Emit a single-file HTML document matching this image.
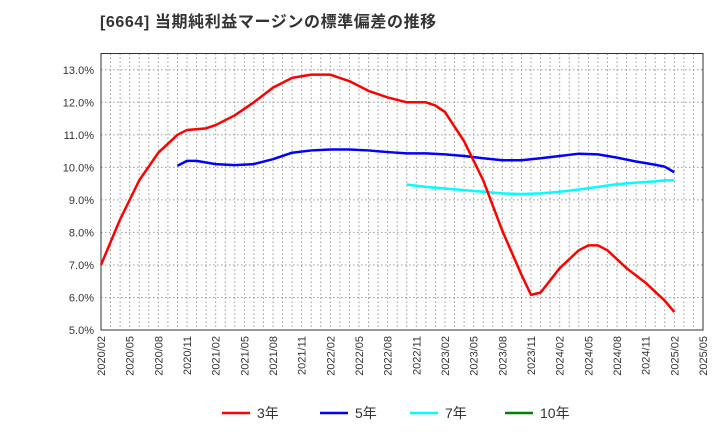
<!DOCTYPE html>
<html><head><meta charset="utf-8"><style>
body{margin:0;background:#fff;font-family:"Liberation Sans","Noto Sans CJK JP",sans-serif}
</style></head><body>
<svg id="c" width="720" height="440" xmlns="http://www.w3.org/2000/svg">
<text x="100" y="27" font-size="16" font-weight="bold" fill="#333" letter-spacing="0.6">[6664] 当期純利益マージンの標準偏差の推移</text>
</svg>
<script>
const xLabels=["2020/02","2020/05","2020/08","2020/11","2021/02","2021/05","2021/08","2021/11","2022/02","2022/05","2022/08","2022/11","2023/02","2023/05","2023/08","2023/11","2024/02","2024/05","2024/08","2024/11","2025/02","2025/05"];
const yTicks=[5,6,7,8,9,10,11,12,13];
const s3Dates=["2020/02","2020/04","2020/06","2020/08","2020/10","2020/11","2021/01","2021/02","2021/04","2021/06","2021/08","2021/10","2021/12","2022/02","2022/04","2022/06","2022/08","2022/10","2022/12","2023/01","2023/02","2023/04","2023/06","2023/08","2023/10","2023/11","2023/12","2024/02","2024/04","2024/05","2024/06","2024/07","2024/09","2024/11","2025/01","2025/02"];
const s3Vals=[7.0,8.4,9.6,10.45,11.0,11.15,11.2,11.3,11.6,12.0,12.45,12.75,12.85,12.85,12.65,12.35,12.15,12.0,12.0,11.9,11.7,10.8,9.6,8.05,6.7,6.08,6.15,6.9,7.45,7.6,7.6,7.45,6.9,6.45,5.9,5.55];
const s5Dates=["2020/10","2020/11","2020/12","2021/02","2021/04","2021/06","2021/08","2021/10","2021/12","2022/02","2022/04","2022/06","2022/08","2022/10","2022/12","2023/02","2023/04","2023/06","2023/08","2023/10","2023/12","2024/02","2024/04","2024/06","2024/08","2024/10","2024/12","2025/01","2025/02"];
const s5Vals=[10.05,10.2,10.2,10.1,10.07,10.1,10.25,10.45,10.52,10.55,10.55,10.52,10.47,10.43,10.43,10.4,10.35,10.28,10.22,10.22,10.28,10.35,10.42,10.4,10.3,10.18,10.08,10.02,9.85];
const s7Dates=["2022/10","2022/12","2023/02","2023/04","2023/06","2023/08","2023/10","2023/12","2024/02","2024/04","2024/06","2024/08","2024/10","2024/12","2025/01","2025/02"];
const s7Vals=[9.47,9.4,9.35,9.3,9.25,9.2,9.18,9.2,9.25,9.32,9.4,9.48,9.53,9.57,9.6,9.6];
const L=101,R=703,T=53.5,B=330,ymin=5,ymax=13.5,mTotal=63;
const NS="http://www.w3.org/2000/svg",svg=document.getElementById('c');
function mi(d){const[y,m]=d.split('/').map(Number);return (y-2020)*12+(m-2);}
function X(d){return L+(R-L)*mi(d)/mTotal;}
function Xi(i){return L+(R-L)*i/mTotal;}
function Y(v){return B-(B-T)*(v-ymin)/(ymax-ymin);}
function el(t,a){const e=document.createElementNS(NS,t);for(const k in a)e.setAttribute(k,a[k]);svg.appendChild(e);return e;}
for(let i=1;i<mTotal;i++){const g=el('line',{x1:Xi(i),x2:Xi(i),y1:T,y2:B,stroke:'#999','stroke-dasharray':'1.5,2.5','stroke-width':1});

}
yTicks.forEach(v=>{const g=el('line',{x1:L,x2:R,y1:Y(v),y2:Y(v),stroke:'#999','stroke-dasharray':'1.5,2.5','stroke-width':1});


const t=el('text',{x:L-7,y:Y(v)+4,'font-size':11,'text-anchor':'end',fill:'#333'});t.textContent=v.toFixed(1)+'%';

});
const fr=el('rect',{x:L,y:T,width:R-L,height:B-T,fill:'none',stroke:'#333','stroke-width':1});


xLabels.forEach(d=>{const x=X(d);const t=el('text',{x:x+4,y:B+6,'font-size':11,'text-anchor':'end',fill:'#333',transform:`rotate(-90 ${x+4} ${B+6})`});t.textContent=d;

});
function line(ds,vs,c,n){const p=el('polyline',{points:ds.map((d,i)=>X(d)+','+Y(vs[i])).join(' '),fill:'none',stroke:c,'stroke-width':2.5,'stroke-linejoin':'round'});

}
line(s7Dates,s7Vals,'#00ffff','series-7yr');
line(s5Dates,s5Vals,'#0000ff','series-5yr');
line(s3Dates,s3Vals,'#ff0000','series-3yr');
[[222,'#ff0000','3年'],[320,'#0000ff','5年'],[410,'#00ffff','7年'],[505,'#008000','10年']].forEach(([x,c,l])=>{
const g=el('line',{x1:x,x2:x+28,y1:413,y2:413,stroke:c,'stroke-width':2.5});


const t=el('text',{x:x+35,y:418,'font-size':14,fill:'#333'});t.textContent=l;

});
</script>
</body></html>
